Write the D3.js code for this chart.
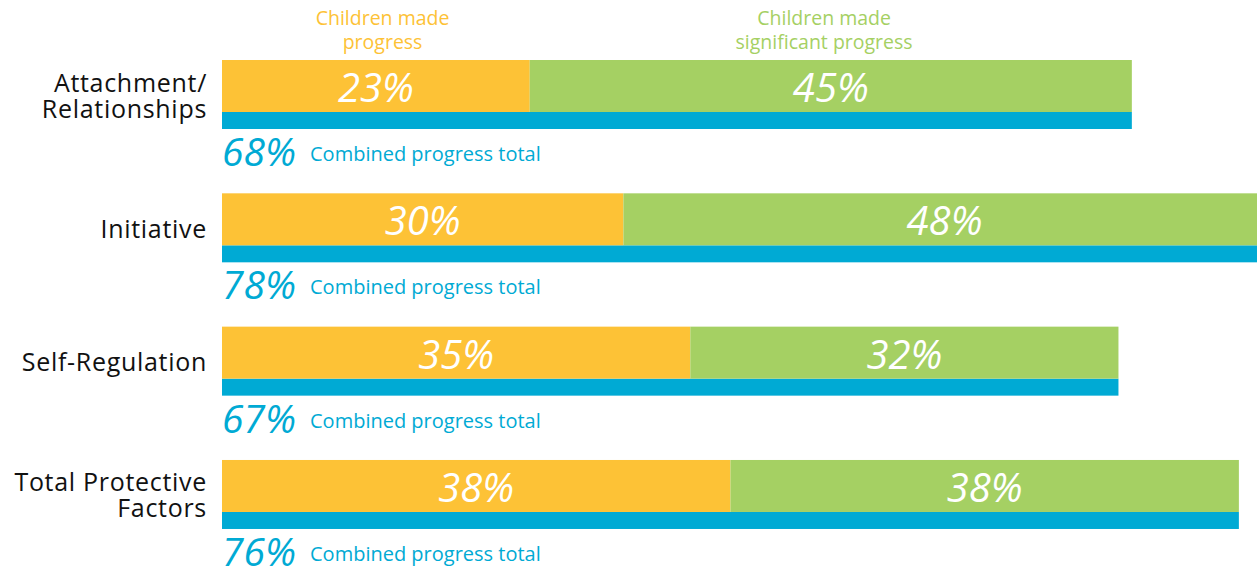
<!DOCTYPE html>
<html>
<head>
<meta charset="utf-8">
<script src="https://cdn.jsdelivr.net/npm/d3@7"></script>
<style>
  html, body { margin: 0; padding: 0; background: #fff; overflow: hidden; }
  svg { display: block; }
  text { font-family: "Open Sans", Lato, sans-serif; }
</style>
</head>
<body>
<svg id="chart" width="1257" height="570"></svg>
<script>
const categories = ["Attachment/\nRelationships", "Initiative", "Self-Regulation", "Total Protective\nFactors"];
const progressValues = [23, 30, 35, 38];
const significantValues = [45, 48, 32, 38];
const totalValues = [68, 78, 67, 76];
const legendLabels = ["Children made\nprogress", "Children made\nsignificant progress"];
const totalCaption = "Combined progress total";

const colors = { progress: "#FDC236", significant: "#A5D063", total: "#00AAD4", text: "#111" };

const svg = d3.select("#chart");

const x = d3.scaleLinear().domain([0, 100]).range([222, 1560]);
const y = d3.scaleBand().domain(categories).range([60, 593.3]).paddingInner(0).paddingOuter(0);
const segH = 52, blueH = 17;

const rows = categories.map((c, i) => ({
  cat: c, p: progressValues[i], s: significantValues[i], t: totalValues[i]
}));

// Legend headers
const legendPos = [12, 45];
legendLabels.forEach((lab, i) => {
  const t = svg.append("text")
    .attr("text-anchor", "middle")
    .attr("fill", i === 0 ? colors.progress : colors.significant)
    .attr("font-size", 19.5);
  lab.split("\n").forEach((line, j) => {
    t.append("tspan").attr("x", x(legendPos[i])).attr("y", 25 + j * 24).text(line);
  });
});

const g = svg.selectAll("g.row").data(rows).enter().append("g").attr("class", "row");

// blue total bars
g.append("rect")
  .attr("x", x(0))
  .attr("y", d => y(d.cat) + segH)
  .attr("width", d => x(d.t) - x(0))
  .attr("height", blueH)
  .attr("fill", colors.total);

// progress segments
g.append("rect")
  .attr("x", x(0))
  .attr("y", d => y(d.cat))
  .attr("width", d => x(d.p) - x(0))
  .attr("height", segH)
  .attr("fill", colors.progress);

// significant segments
g.append("rect")
  .attr("x", d => x(d.p))
  .attr("y", d => y(d.cat))
  .attr("width", d => x(d.p + d.s) - x(d.p))
  .attr("height", segH)
  .attr("fill", colors.significant);

// value labels
g.append("text")
  .attr("x", d => (x(0) + x(d.p)) / 2)
  .attr("y", d => y(d.cat) + segH / 2 + 16)
  .attr("text-anchor", "middle")
  .attr("fill", "#fff")
  .attr("font-size", 40)
  .attr("font-style", "italic")
  .text(d => d.p + "%");

g.append("text")
  .attr("x", d => (x(d.p) + x(d.p + d.s)) / 2)
  .attr("y", d => y(d.cat) + segH / 2 + 16)
  .attr("text-anchor", "middle")
  .attr("fill", "#fff")
  .attr("font-size", 40)
  .attr("font-style", "italic")
  .text(d => d.s + "%");

// category labels
g.each(function(d) {
  const lines = d.cat.split("\n");
  const cy = y(d.cat) + (segH + blueH) / 2 + 2;
  lines.forEach((line, j) => {
    d3.select(this).append("text")
      .attr("text-anchor", "end")
      .attr("fill", colors.text)
      .attr("font-size", 25)
      .attr("letter-spacing", 0.7)
      .attr("x", 207)
      .attr("y", cy + 8 + (j - (lines.length - 1) / 2) * 26)
      .text(line);
  });
});

// totals below
g.append("text")
  .attr("x", x(0))
  .attr("y", d => y(d.cat) + segH + blueH + 37)
  .attr("fill", colors.total)
  .attr("font-size", 39)
  .attr("font-style", "italic")
  .text(d => d.t + "%");

g.append("text")
  .attr("x", 310)
  .attr("y", d => y(d.cat) + segH + blueH + 32)
  .attr("fill", colors.total)
  .attr("font-size", 20)
  .text(totalCaption);
</script>
</body>
</html>
